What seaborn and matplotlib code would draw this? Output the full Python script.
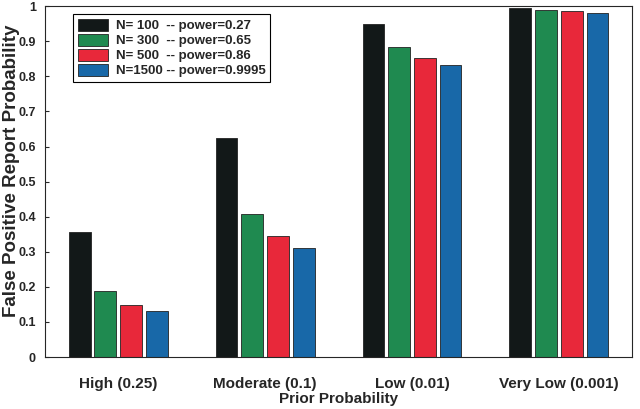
import pandas as pd
import seaborn as sns
import matplotlib.pyplot as plt
from matplotlib.ticker import FormatStrFormatter

priors = ["High (0.25)", "Moderate (0.1)", "Low (0.01)", "Very Low (0.001)"]
series = ["N= 100  -- power=0.27", "N= 300  -- power=0.65",
          "N= 500  -- power=0.86", "N=1500 -- power=0.9995"]
n100 = [0.355, 0.623, 0.948, 0.996]
n300 = [0.188, 0.409, 0.884, 0.990]
n500 = [0.148, 0.344, 0.852, 0.985]
n1500 = [0.131, 0.310, 0.832, 0.981]
colors = ["#121818", "#1f8a50", "#e8283a", "#1868a8"]

rows = []
for name, vals in zip(series, [n100, n300, n500, n1500]):
    for p, v in zip(priors, vals):
        rows.append({"prior": p, "series": name, "fpr": v})
df = pd.DataFrame(rows)

sns.set_style("ticks")
plt.rcParams["font.family"] = ["Liberation Sans", "DejaVu Sans"]
plt.rcParams["font.weight"] = "bold"

fig = plt.figure(figsize=(6.4, 4.09), dpi=100)
ax = fig.add_axes([0.070, 0.127, 0.918, 0.858])

sns.barplot(data=df, x="prior", y="fpr", hue="series", palette=colors,
            saturation=1, width=0.7, gap=0.15, edgecolor="#222222",
            linewidth=0.6, ax=ax)

ax.set_ylim(0, 1)
ax.set_xlim(-0.5, 3.5)
ax.set_yticks([i / 10 for i in range(11)])
ax.yaxis.set_major_formatter(FormatStrFormatter("%g"))
ax.tick_params(axis="y", direction="in", length=3, labelsize=9, pad=6.5)
ax.tick_params(axis="x", length=0, labelsize=11, pad=14)
for lab in ax.get_xticklabels() + ax.get_yticklabels():
    lab.set_fontweight("bold")
for s in ax.spines.values():
    s.set_visible(True)
    s.set_linewidth(0.8)

ax.set_xlabel("Prior Probability", fontsize=11, fontweight="bold", labelpad=1)
ax.set_ylabel("False Positive Report Probability", fontsize=13.5, fontweight="bold")
ax.yaxis.set_label_coords(-0.043, 0.53)

leg = ax.legend(loc="upper left", bbox_to_anchor=(0.048, 0.977), fontsize=9.5,
                frameon=True, fancybox=False, edgecolor="black", framealpha=1,
                handlelength=2.3, handleheight=1.0, labelspacing=0.12,
                borderpad=0.35, handletextpad=0.6, borderaxespad=0)
leg.get_frame().set_linewidth(0.8)
for t in leg.get_texts():
    t.set_fontweight("bold")

fig.savefig("out.png", dpi=100)
